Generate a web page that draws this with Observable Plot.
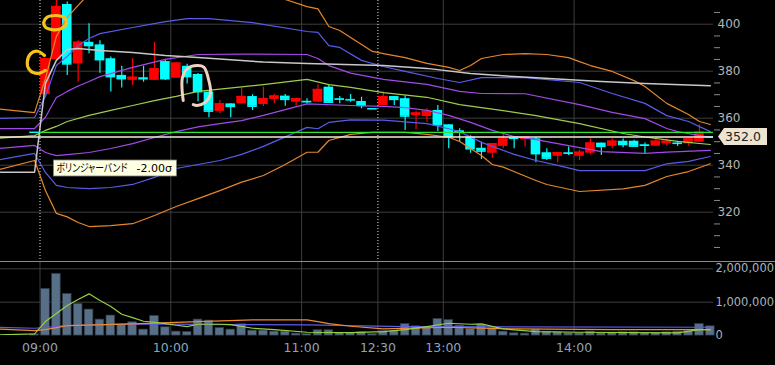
<!DOCTYPE html>
<html><head><meta charset="utf-8">
<script src="https://cdn.jsdelivr.net/npm/d3@7"></script>
<script src="https://cdn.jsdelivr.net/npm/@observablehq/plot@0.6"></script>
<style>
html,body{margin:0;padding:0;background:#000;}
#wrap{width:775px;height:365px;overflow:hidden;background:#000;position:relative;}
#vol{border-top:1px solid #8a8a8a;height:73px;position:relative;z-index:2;}
#time{position:relative;z-index:1;}
svg{display:block}
</style></head><body><div id="wrap"><div id="price"></div><div id="vol"></div><div id="time"></div></div>
<script>
// ---- time axis ----
const timeTickIdx = [0, 12, 24, 31, 37, 49];
const timeTickLabels = ["09:00", "10:00", "11:00", "12:30", "13:00", "14:00"];
const sessionStarts = [0, 31];
// ---- price ticks ----
const priceLabelTicks = [320, 340, 360, 380, 400];
const priceMinorTicks = [305,310,315,325,330,335,345,350,355,365,370,375,385,390,395,405];
const volTicks = [0, 1000000, 2000000];
const prevClose = 354.0;
const lastPrice = 352.0;

// ---- candles (bar index -1 = previous day last bar, 0 = 09:00, 31 = 12:30) ----
const open = [354.0,
 370.0,384.9,408.4,383.1,392.3,391.2,385.3,378.2,376.1,377.2,
 376.1,384.1,377.0,382.1,378.6,371.1,362.9,366.1,366.1,369.2,
 365.8,368.0,369.4,366.8,367.2,366.8,373.2,368.3,368.0,367.1,
 364.0,365.4,369.2,368.3,361.1,360.7,363.3,357.2,354.6,351.9,
 347.2,345.1,348.0,351.6,350.9,351.2,345.3,343.8,345.3,343.8,
 345.1,349.4,348.0,350.2,350.2,348.7,348.1,349.1,349.4,349.1,
 349.8,352.0];
const high = [354.0,
 385.5,411.0,409.4,393.0,400.2,393.0,386.0,382.1,385.3,382.1,
 392.3,385.0,383.6,383.0,379.0,371.1,367.5,366.1,372.9,370.0,
 373.2,370.1,370.1,368.5,368.3,374.2,374.2,369.2,370.1,368.9,
 364.0,371.1,369.2,369.4,363.0,364.0,365.4,357.2,355.5,352.5,
 349.8,349.1,353.1,351.6,351.9,351.9,347.0,345.3,347.7,346.3,
 351.2,349.4,351.2,351.2,350.6,349.4,351.2,351.2,350.2,351.2,
 357.2,352.0];
const low = [354.0,
 369.5,384.5,378.2,375.3,387.4,379.1,371.1,372.9,373.9,375.3,
 376.0,376.0,377.0,374.6,367.0,360.2,361.9,360.2,366.0,363.3,
 365.0,366.1,365.1,365.1,366.1,366.8,366.8,366.1,366.8,364.0,
 364.0,365.4,365.4,354.8,355.1,358.3,354.3,347.0,349.8,345.1,
 342.4,343.0,347.0,347.0,347.7,341.0,342.0,341.0,344.1,342.0,
 344.4,344.1,347.0,347.4,348.1,344.9,348.1,348.1,348.0,348.1,
 349.8,352.0];
const close = [354.0,
 385.3,407.5,383.1,392.3,390.9,384.9,377.7,376.8,377.4,376.8,
 381.0,376.8,383.4,377.7,371.3,363.0,366.1,365.0,369.2,365.1,
 368.3,369.4,368.0,368.3,367.0,372.2,366.8,368.1,367.8,365.4,
 364.0,369.2,368.0,360.9,362.2,362.9,357.2,352.2,354.4,347.0,
 346.0,349.1,351.2,351.4,351.9,344.9,343.0,345.3,345.1,345.5,
 349.4,348.0,350.2,348.8,348.1,348.5,350.2,350.2,349.3,351.2,
 354.0,352.0];
// volume in millions
const volume = [0.04,
 1.40,1.85,1.25,0.95,0.78,0.48,0.60,0.33,0.40,0.18,
 0.59,0.25,0.12,0.11,0.48,0.45,0.23,0.18,0.34,0.15,
 0.15,0.12,0.12,0.06,0.05,0.16,0.16,0.08,0.08,0.10,
 0.05,0.14,0.14,0.35,0.28,0.25,0.50,0.47,0.30,0.20,
 0.32,0.22,0.12,0.07,0.06,0.18,0.12,0.10,0.07,0.07,
 0.12,0.07,0.08,0.10,0.10,0.08,0.08,0.10,0.12,0.14,
 0.35,0.28];

// ---- Bollinger bands (bar index, price) ----
const up3X = [-4.6,-1,0,1,2,3,4,6,10,16,20,22,24,25,26,27,28,29,30,31,33,35,37,38,39,40,42,44,46,48,49,50,52,54,55,57,59,60,61];
const up3  = [364.1,362.4,376.9,394.8,402.9,408.0,413,418,422,420,414,410.5,407.5,406.5,399.0,397.3,394.3,391.4,388.4,387.5,385.8,383.3,381.6,380.3,382.4,385.4,387.1,387.5,387.1,385.8,384.1,382.4,379.9,376.0,373.5,366.3,361.6,358.6,357.3];
const up2X = [-4.6,-1,0,1,2,3,4,5,8,11,13,15,19,24,25,26,27,29,31,33,36,38,40,44,49,52,55,57,59,61];
const up2  = [359.9,360.3,369.3,382.4,386.3,390.9,393.9,396.0,398.6,401.1,402.4,402.4,400.7,396.9,396.5,390.9,390.1,384.6,382.0,379.9,376.9,375.2,377.3,377.3,375.2,370.5,366.3,361.1,358.6,354.3];
const up1X = [-4.6,-1,0,1,2,3,4,5,8,11,14,18,24,25,26,28,31,35,38,40,44,49,52,55,57,58,61];
const up1  = [355.6,355.6,360.4,368.8,371.4,373.7,375.6,377.7,381.6,385.0,387.1,387.3,387.1,385.4,382.4,379.2,376.5,374.4,371.4,370.5,370.4,365.8,362.5,359.8,355.6,354.3,351.8];
const midX = [-4.6,-1,0,1,2,4,6,8,10,12,14,16,20,24,26,28,31,35,38,41,45,49,53,55,58,61];
const mid  = [351.4,352.6,354.8,356.5,358.6,361.2,363.3,365.4,367.5,369.3,371.4,372.4,374.3,376.5,374.3,373.1,370.9,368.9,365.8,363.9,361.1,357.7,353.5,352.0,350.1,348.8];
const lo1X = [-4.6,-1,0,1,2,4,6,8,10,12,14,16,18,20,24,28,31,33,35,37,39,41,43,45,47,49,51,55,57,61];
const lo1  = [347.0,348.4,345.4,344.1,344.5,345.4,347.1,349.2,351.8,354.3,356.3,357.7,359.0,361.2,366.1,365.4,365.0,364.5,363.3,361.2,358.2,354.8,352.2,350.9,349.2,347.5,345.8,345.0,345.6,346.3];
const lo2X = [-4.6,-1,0,1,2,4,6,8,10,12,14,16,18,20,24,25,26,28,31,35,37,38,40,43,45,47,49,55,57,59,61];
const lo2  = [342.0,345.0,336.9,331.4,330.5,330.0,330.5,331.8,334.8,338.6,340.3,342.0,344.6,348.0,356.1,355.5,358.2,359.3,359.2,357.7,355.5,354.3,349.7,344.6,342.0,339.9,337.7,337.7,340.6,341.6,343.7];
const lo3X = [-4.6,-1,0,1,2,3,4,6,8,10,12,14,16,18,20,22,24,25,26,28,30,33,35,37,38,40,41,42,45,46,49,53,55,57,59,61];
const lo3  = [337.7,342.0,329.2,319.5,318.0,315.6,313.9,314.3,315.1,318.6,322.4,325.8,329.2,332.8,335.6,340.3,345.5,345.5,350.5,353.1,354.0,354.0,353.1,351.9,350.1,344.1,340.3,339.2,333.5,331.8,328.8,329.9,331.4,335.2,337.3,340.6];
const vwapX = [-4.6,-1,0,1,2,3,5,8,11,14,20,24,31,35,39,43,47,51,55,61];
const vwap  = [337.0,337.0,374.8,384.6,389.2,389.7,388.8,388.0,386.7,385.8,383.9,383.3,382.4,381.2,379.0,377.7,376.7,375.6,374.8,373.8];

// ---- volume moving averages (millions) ----
const vGreenX = [-4.6,-1,0,1,2,3,4,5,6,7,8,9,10,11,12,13,14,16,17,19,21,24,28,31,33,35,37,39,40,42,45,49,58,60,61];
const vGreen  = [0.02,0.05,0.42,0.66,0.90,1.08,1.25,1.05,0.87,0.64,0.54,0.43,0.40,0.36,0.31,0.27,0.34,0.34,0.33,0.22,0.18,0.10,0.09,0.12,0.18,0.27,0.37,0.34,0.35,0.20,0.12,0.10,0.08,0.18,0.18];
const vOrangeX = [-4.6,-1,0,2,8,14,19,24,25,26,28,31,37,43,52,61];
const vOrange  = [0.20,0.15,0.18,0.30,0.35,0.42,0.47,0.47,0.42,0.36,0.28,0.20,0.25,0.20,0.18,0.18];
const vBlueX = [-4.6,-1,2,8,17,24,33,61];
const vBlue  = [0.25,0.22,0.30,0.35,0.33,0.32,0.27,0.25];

// ---- hand-drawn marks (axis position, price) ----
const yellowOIdx = [2.04,1.42,0.66,0.35,0.50,1.12,1.88,2.43,2.34,2.04];
const yellowOPrice = [403.3,403.7,403.0,400.9,398.7,397.7,398.0,400.2,402.3,403.3];
const yellowCIdx = [0.41,-0.23,-0.87,-1.17,-1.03,-0.57,-0.02,0.50];
const yellowCPrice = [386.7,388.5,387.4,383.8,381.0,379.3,379.2,380.3];
const beigeIdx = [13.14,13.03,13.07,13.50,14.42,15.03,15.49,15.64,15.18,14.42,14.06];
const beigePrice = [367.5,372.6,377.3,381.0,382.4,381.7,376.0,370.4,366.8,365.4,365.8];
const tooltip = {i: 1.28, p: 342.0, name: "ボリンジャーバンド", value: "-2.00σ"};

// ---- build ----
const W = 775;
const X_DOMAIN = [-3.624, 61.79];
const PRICE_DOMAIN = [299.02, 410.085];
const idx = d3.range(-1, 62);
const candles = idx.map((i, k) => ({i, o: open[k], h: high[k], l: low[k], c: close[k], v: volume[k]}));
const cColor = d => d.c > d.o ? "#ff0000" : "#00ffff";
const series = (xs, vs) => xs.map((i, k) => ({i, v: vs[k]}));
const pts = (xs, ps) => xs.map((i, k) => ({i, p: ps[k]}));
const bandLine = (xs, vs, stroke, w = 1.2) =>
  Plot.line(series(xs, vs), {x: d => d.i + 0.5, y: "v", stroke, strokeWidth: w, clip: true});
const volLine = (xs, vs, stroke) =>
  Plot.line(series(xs, vs), {x: d => d.i + 0.5, y: d => d.v * 1e6, stroke, strokeWidth: 1.2, clip: true});
const solidTicks = timeTickIdx.filter(t => !sessionStarts.includes(t));
const baseStyle = {background: "#000", color: "#b4b4b4", fontFamily: "DejaVu Sans, sans-serif", fontSize: "12px", overflow: "visible"};

const ORANGE = "#e6862c", BLUE = "#5b5bea", PURPLE = "#a24ae8", LIME = "#a0cc4e";

const price = Plot.plot({
  width: W, height: 261, marginLeft: 0, marginRight: 62, marginTop: 0, marginBottom: 0,
  style: baseStyle,
  x: {domain: X_DOMAIN, axis: null},
  y: {domain: PRICE_DOMAIN},
  color: {type: "identity"},
  marks: [
    Plot.ruleY(priceLabelTicks, {stroke: "#3d3d3d"}),
    Plot.ruleX(solidTicks, {stroke: "#3d3d3d"}),
    Plot.ruleX(sessionStarts, {stroke: "#e8e8e8", strokeDasharray: "1,2"}),
    Plot.ruleX(candles, {x: d => d.i + 0.5, y1: "l", y2: "h", stroke: cColor, strokeWidth: 1.2, clip: true}),
    Plot.rect(candles, {x1: d => d.i + 0.06, x2: d => d.i + 0.94, y1: "o", y2: "c", fill: cColor, clip: true}),
    Plot.ruleY(candles, {x1: d => d.i + 0.06, x2: d => d.i + 0.94, y: "c", stroke: cColor, strokeWidth: 1.5, clip: true}),
    bandLine(up3X, up3, ORANGE), bandLine(lo3X, lo3, ORANGE),
    bandLine(up2X, up2, BLUE), bandLine(lo2X, lo2, BLUE),
    bandLine(up1X, up1, PURPLE), bandLine(lo1X, lo1, PURPLE),
    bandLine(midX, mid, LIME),
    bandLine(vwapX, vwap, "#c8c8c8", 1.5),
    Plot.ruleY([prevClose], {x1: 0, x2: X_DOMAIN[1], stroke: "#2fe52f", strokeWidth: 1.3}),
    Plot.ruleY([lastPrice], {stroke: "#f2ecdc", strokeWidth: 1.5}),
    Plot.line(pts(yellowOIdx, yellowOPrice), {x: "i", y: "p", stroke: "#f7c21b", strokeWidth: 3.2, curve: "catmull-rom", strokeLinecap: "round"}),
    Plot.line(pts(yellowCIdx, yellowCPrice), {x: "i", y: "p", stroke: "#f7c21b", strokeWidth: 3.2, curve: "catmull-rom", strokeLinecap: "round"}),
    Plot.line(pts(beigeIdx, beigePrice), {x: "i", y: "p", stroke: "#ecd3c3", strokeWidth: 3, curve: "catmull-rom", strokeLinecap: "round"}),
    Plot.axisY(priceMinorTicks, {anchor: "right", tickSize: 6, tickFormat: () => "", stroke: "#8a8a8a", label: null}),
    Plot.axisY(priceLabelTicks, {anchor: "right", tickSize: 0, tickPadding: 4, fill: "#b4b4b4", fontSize: 12, label: null})
  ]
});
document.getElementById("price").appendChild(price);

// price tag and tooltip, placed through the plot's own scales
{
  const xs = price.scale("x"), ys = price.scale("y");
  const g = d3.select(price).append("g").attr("text-anchor", "start");
  const tx = xs.range[1] + 5, ty = ys.apply(lastPrice);
  g.append("path").attr("d", `M${tx},${ty} l6,-8.5 h43 v17 h-43 z`).attr("fill", "#ece3d0");
  g.append("text").attr("x", tx + 25).attr("y", ty).attr("dy", "0.36em")
    .attr("text-anchor", "middle").attr("fill", "#222").attr("font-size", 12.5)
    .attr("font-family", "DejaVu Sans, sans-serif").text(d3.format(".1f")(lastPrice));
  const bx = xs.apply(tooltip.i), by = ys.apply(tooltip.p);
  g.append("rect").attr("x", bx).attr("y", by).attr("width", 123).attr("height", 16)
    .attr("fill", "#ffffe1").attr("stroke", "#808080").attr("stroke-width", 0.8);
  const tg = g.append("g").attr("transform", `translate(${bx + 3},${by + 12.2})`);
  const t1 = tg.append("text").attr("x", 0).attr("y", 0).attr("fill", "#000")
    .attr("text-anchor", "start")
    .attr("font-size", 11).attr("font-family", "Noto Sans CJK JP, sans-serif")
    .style("font-feature-settings", "'palt'").text(tooltip.name);
  const w1 = t1.node().getComputedTextLength();
  if (w1 > 71) t1.attr("transform", `scale(${71 / w1},1)`);
  tg.append("text").attr("x", 80).attr("y", 0).attr("fill", "#000")
    .attr("text-anchor", "start")
    .attr("font-size", 11).attr("font-family", "DejaVu Sans, sans-serif").text(tooltip.value);
}

const vol = Plot.plot({
  width: W, height: 73, marginLeft: 0, marginRight: 62, marginTop: 0, marginBottom: 0,
  style: {...baseStyle, background: "transparent"},
  x: {domain: X_DOMAIN, axis: null},
  y: {domain: [0, 2000000], range: [73.1, 6.3]},
  marks: [
    Plot.ruleY(volTicks.slice(1), {stroke: "#3d3d3d"}),
    Plot.ruleX(timeTickIdx, {stroke: "#3d3d3d"}),
    Plot.rect(candles, {x1: d => d.i + 0.1, x2: d => d.i + 0.9, y1: 0, y2: d => d.v * 1e6, fill: "#586f88", stroke: "#2c3640", strokeWidth: 0.7}),
    volLine(vBlueX, vBlue, BLUE),
    volLine(vOrangeX, vOrange, "#ee8a30"),
    volLine(vGreenX, vGreen, "#94d040"),
    Plot.axisY(volTicks, {anchor: "right", tickSize: 0, tickPadding: 2, tickFormat: d3.format(","), fill: "#a8b2bc", fontSize: 11.5, label: null})
  ]
});
document.getElementById("vol").appendChild(vol);

const time = Plot.plot({
  width: W, height: 30, marginLeft: 0, marginRight: 62, marginTop: 0, marginBottom: 0,
  style: {...baseStyle, background: "transparent"},
  x: {domain: X_DOMAIN, axis: null},
  marks: [
    Plot.text(timeTickIdx, {x: d => d, text: (d, k) => timeTickLabels[k], frameAnchor: "top", dy: 8, fill: "#8ea4bb", fontSize: 12.5})
  ]
});
document.getElementById("time").appendChild(time);
</script></body></html>
